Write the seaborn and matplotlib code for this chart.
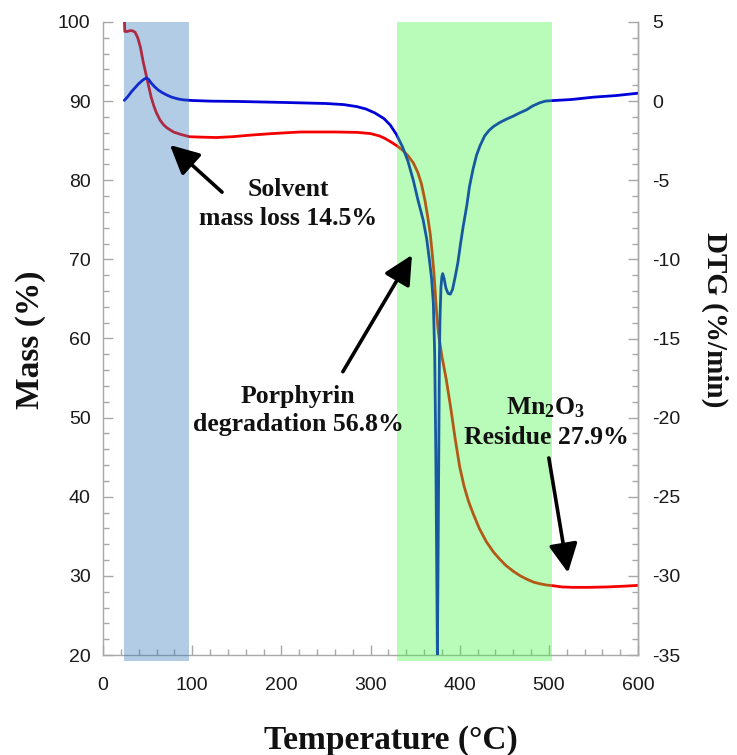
import numpy as np
import pandas as pd
import matplotlib
matplotlib.use("Agg")
import matplotlib.pyplot as plt
from matplotlib.ticker import MultipleLocator
import seaborn as sns

# ---- data ----
temp_mass = [24, 24.5, 27, 30, 33, 36, 39, 42, 45, 48, 51, 54, 57, 60, 64, 68, 72, 79,
             87, 97, 110, 127, 145, 165, 190, 221, 260, 285, 300, 310, 316, 322, 329,
             336, 342, 348, 353, 357, 361, 364, 367, 369, 371, 372.5, 374, 375.5, 377,
             380, 385, 390, 395, 400, 405, 410, 415, 422, 430, 438, 445, 452, 460, 468,
             475, 483, 490, 497, 505, 515, 527, 545, 565, 585, 600]
mass = [100.2, 98.8, 98.8, 98.9, 98.9, 98.7, 98.0, 96.8, 95.0, 93.5, 92.0, 90.5, 89.4,
        88.5, 87.6, 87.0, 86.6, 86.1, 85.8, 85.5, 85.45, 85.4, 85.5, 85.7, 85.9, 86.1,
        86.1, 86.05, 85.9, 85.6, 85.3, 84.9, 84.4, 83.8, 83.1, 82.2, 81.0, 79.6, 77.5,
        75.5, 73.2, 71.0, 68.5, 66.0, 63.5, 61.5, 60.0, 57.8, 54.8, 51.2, 47.3, 43.8,
        41.3, 39.4, 37.9, 36.0, 34.3, 33.0, 32.1, 31.3, 30.6, 30.0, 29.6, 29.2, 29.0,
        28.85, 28.75, 28.6, 28.55, 28.55, 28.6, 28.7, 28.8]

temp_dtg = [24, 28, 32, 36, 40, 44, 47, 49, 51, 54, 58, 62, 66, 71, 77, 84, 90, 100,
            120, 150, 200, 250, 270, 285, 295, 305, 315, 322, 329, 336, 342, 348, 353,
            359, 363, 366, 368.5, 370.5, 372, 373.2, 374.2, 375, 375.8, 376.6, 377.3,
            378, 379, 380, 381, 382.5, 384.5, 387, 389.5, 392, 395, 398, 401, 404, 408,
            411, 415, 419, 423, 428, 433, 438, 445, 452, 460, 467, 475, 482, 490, 496,
            503, 525, 550, 575, 600]
dtg = [0.05, 0.3, 0.6, 0.85, 1.1, 1.3, 1.42, 1.45, 1.38, 1.15, 0.9, 0.7, 0.55, 0.4,
       0.25, 0.14, 0.08, 0.04, 0.0, -0.02, -0.08, -0.15, -0.22, -0.35, -0.5, -0.75,
       -1.1, -1.5, -2.1, -2.9, -3.8, -5.0, -6.2, -7.5, -8.7, -10.0, -11.2, -12.8, -16.0,
       -22.0, -29.0, -35.0, -29.0, -22.0, -16.0, -13.6, -11.8, -11.1, -10.9, -11.2,
       -11.8, -12.15, -12.2, -11.9, -11.1, -10.2, -9.0, -7.9, -6.6, -5.4, -4.3, -3.4,
       -2.8, -2.2, -1.85, -1.6, -1.35, -1.15, -0.95, -0.75, -0.55, -0.3, -0.1, 0.0,
       0.03, 0.1, 0.25, 0.35, 0.5]

solvent_band = (24, 96)
degradation_band = (330, 503)

x_ticks = [0, 100, 200, 300, 400, 500, 600]
mass_ticks = [20, 30, 40, 50, 60, 70, 80, 90, 100]
dtg_ticks = [-35, -30, -25, -20, -15, -10, -5, 0, 5]

annotations = [
    ("Solvent\nmass loss 14.5%", (75.1, 84.45), (133.5, 78.5), (207.5, 77.0)),
    ("Porphyrin\ndegradation 56.8%", (346.5, 70.55), (269.0, 55.8), (218.7, 50.9)),
    ("Mn$_{2}$O$_{3}$\nResidue 27.9%", (521.5, 30.4), (500.0, 44.9), (496.8, 49.4)),
]

# ---- styling ----
sns.set_theme(style="ticks")
plt.rcParams['font.family'] = ['Liberation Sans', 'DejaVu Sans']
plt.rcParams['axes.unicode_minus'] = False
plt.rcParams['mathtext.fontset'] = 'custom'
plt.rcParams['mathtext.rm'] = 'Liberation Serif:bold'
plt.rcParams['mathtext.it'] = 'Liberation Serif:bold'
plt.rcParams['mathtext.bf'] = 'Liberation Serif:bold'

serif = ['Liberation Serif', 'DejaVu Serif']
spine_col = '#a8a8a8'

fig = plt.figure(figsize=(7.37, 7.55), dpi=100)
ax = fig.add_axes([103/737, 1-655/755, 535/737, 633/755])
ax2 = ax.twinx()

df_mass = pd.DataFrame({"T": temp_mass, "mass": mass})
df_dtg = pd.DataFrame({"T": temp_dtg, "dtg": dtg})

sns.lineplot(data=df_mass, x="T", y="mass", ax=ax, color=(0.96, 0.0, 0.0), lw=2.0,
             sort=False, zorder=2)
sns.lineplot(data=df_dtg, x="T", y="dtg", ax=ax2, color=(0.0, 0.0, 0.85), lw=2.0,
             sort=False, zorder=2)

# translucent bands drawn over the curves
ax2.axvspan(*solvent_band, ymin=-0.01, ymax=1.0, color=(0.18, 0.46, 0.73), alpha=0.366,
            lw=0, zorder=5, clip_on=False)
ax2.axvspan(*degradation_band, ymin=-0.01, ymax=1.0, color=(0.25, 0.96, 0.25), alpha=0.366,
            lw=0, zorder=5, clip_on=False)

ax.set_xlim(0, 600)
ax.set_ylim(20, 100)
ax2.set_ylim(-35, 5)
ax.set_xticks(x_ticks)
ax.set_yticks(mass_ticks)
ax2.set_yticks(dtg_ticks)
ax.xaxis.set_minor_locator(MultipleLocator(20))
ax.yaxis.set_minor_locator(MultipleLocator(2))
ax2.yaxis.set_minor_locator(MultipleLocator(1))

for a in (ax, ax2):
    a.set_xlabel("")
    a.set_ylabel("")
    for s in a.spines.values():
        s.set_color(spine_col)
        s.set_linewidth(1.0)
    a.spines['top'].set_visible(False)
    a.tick_params(which='major', direction='in', length=7, width=1, color=spine_col,
                  labelsize=14, labelcolor='#1a1a1a')
    a.tick_params(which='minor', direction='in', length=4, width=1, color=spine_col)
ax.spines['right'].set_visible(True)
ax2.spines['right'].set_visible(True)
ax2.spines['left'].set_visible(False)
ax2.spines['bottom'].set_visible(False)
ax.tick_params(axis='y', pad=9)
ax.tick_params(axis='x', pad=16)
ax2.tick_params(axis='y', pad=10)

ax2.set_zorder(ax.get_zorder() + 1)
ax2.patch.set_visible(False)

# annotations (in mass-axis data coordinates, drawn on the top axes)
for text, head, tail, tpos in annotations:
    hx = ax2.transData.inverted().transform(ax.transData.transform(head))
    tx = ax2.transData.inverted().transform(ax.transData.transform(tail))
    px = ax2.transData.inverted().transform(ax.transData.transform(tpos))
    ax2.annotate("", xy=hx, xytext=tx,
                 arrowprops=dict(arrowstyle='-|>,head_length=0.8,head_width=0.4',
                                 lw=2.6, color='black', shrinkA=0, shrinkB=0,
                                 mutation_scale=22), zorder=10)
    ax2.text(px[0], px[1], text, ha='center', va='center', multialignment='center',
             fontsize=18.5, fontweight='bold', family=serif, linespacing=1.3, zorder=10,
             color='#111111')

fig.text(30/737, 1-340/755, "Mass (%)", rotation=90, ha='center', va='center',
         fontsize=24, fontweight='bold', family=serif, color='#111111')
fig.text(715/737, 1-320/755, "DTG (%/min)", rotation=270, ha='center', va='center',
         fontsize=21, fontweight='bold', family=serif, color='#111111')
fig.text(391/737, 1-740/755, "Temperature (\u00b0C)", ha='center', va='center',
         fontsize=24, fontweight='bold', family=serif, color='#111111')

fig.savefig("out.png", dpi=100)
